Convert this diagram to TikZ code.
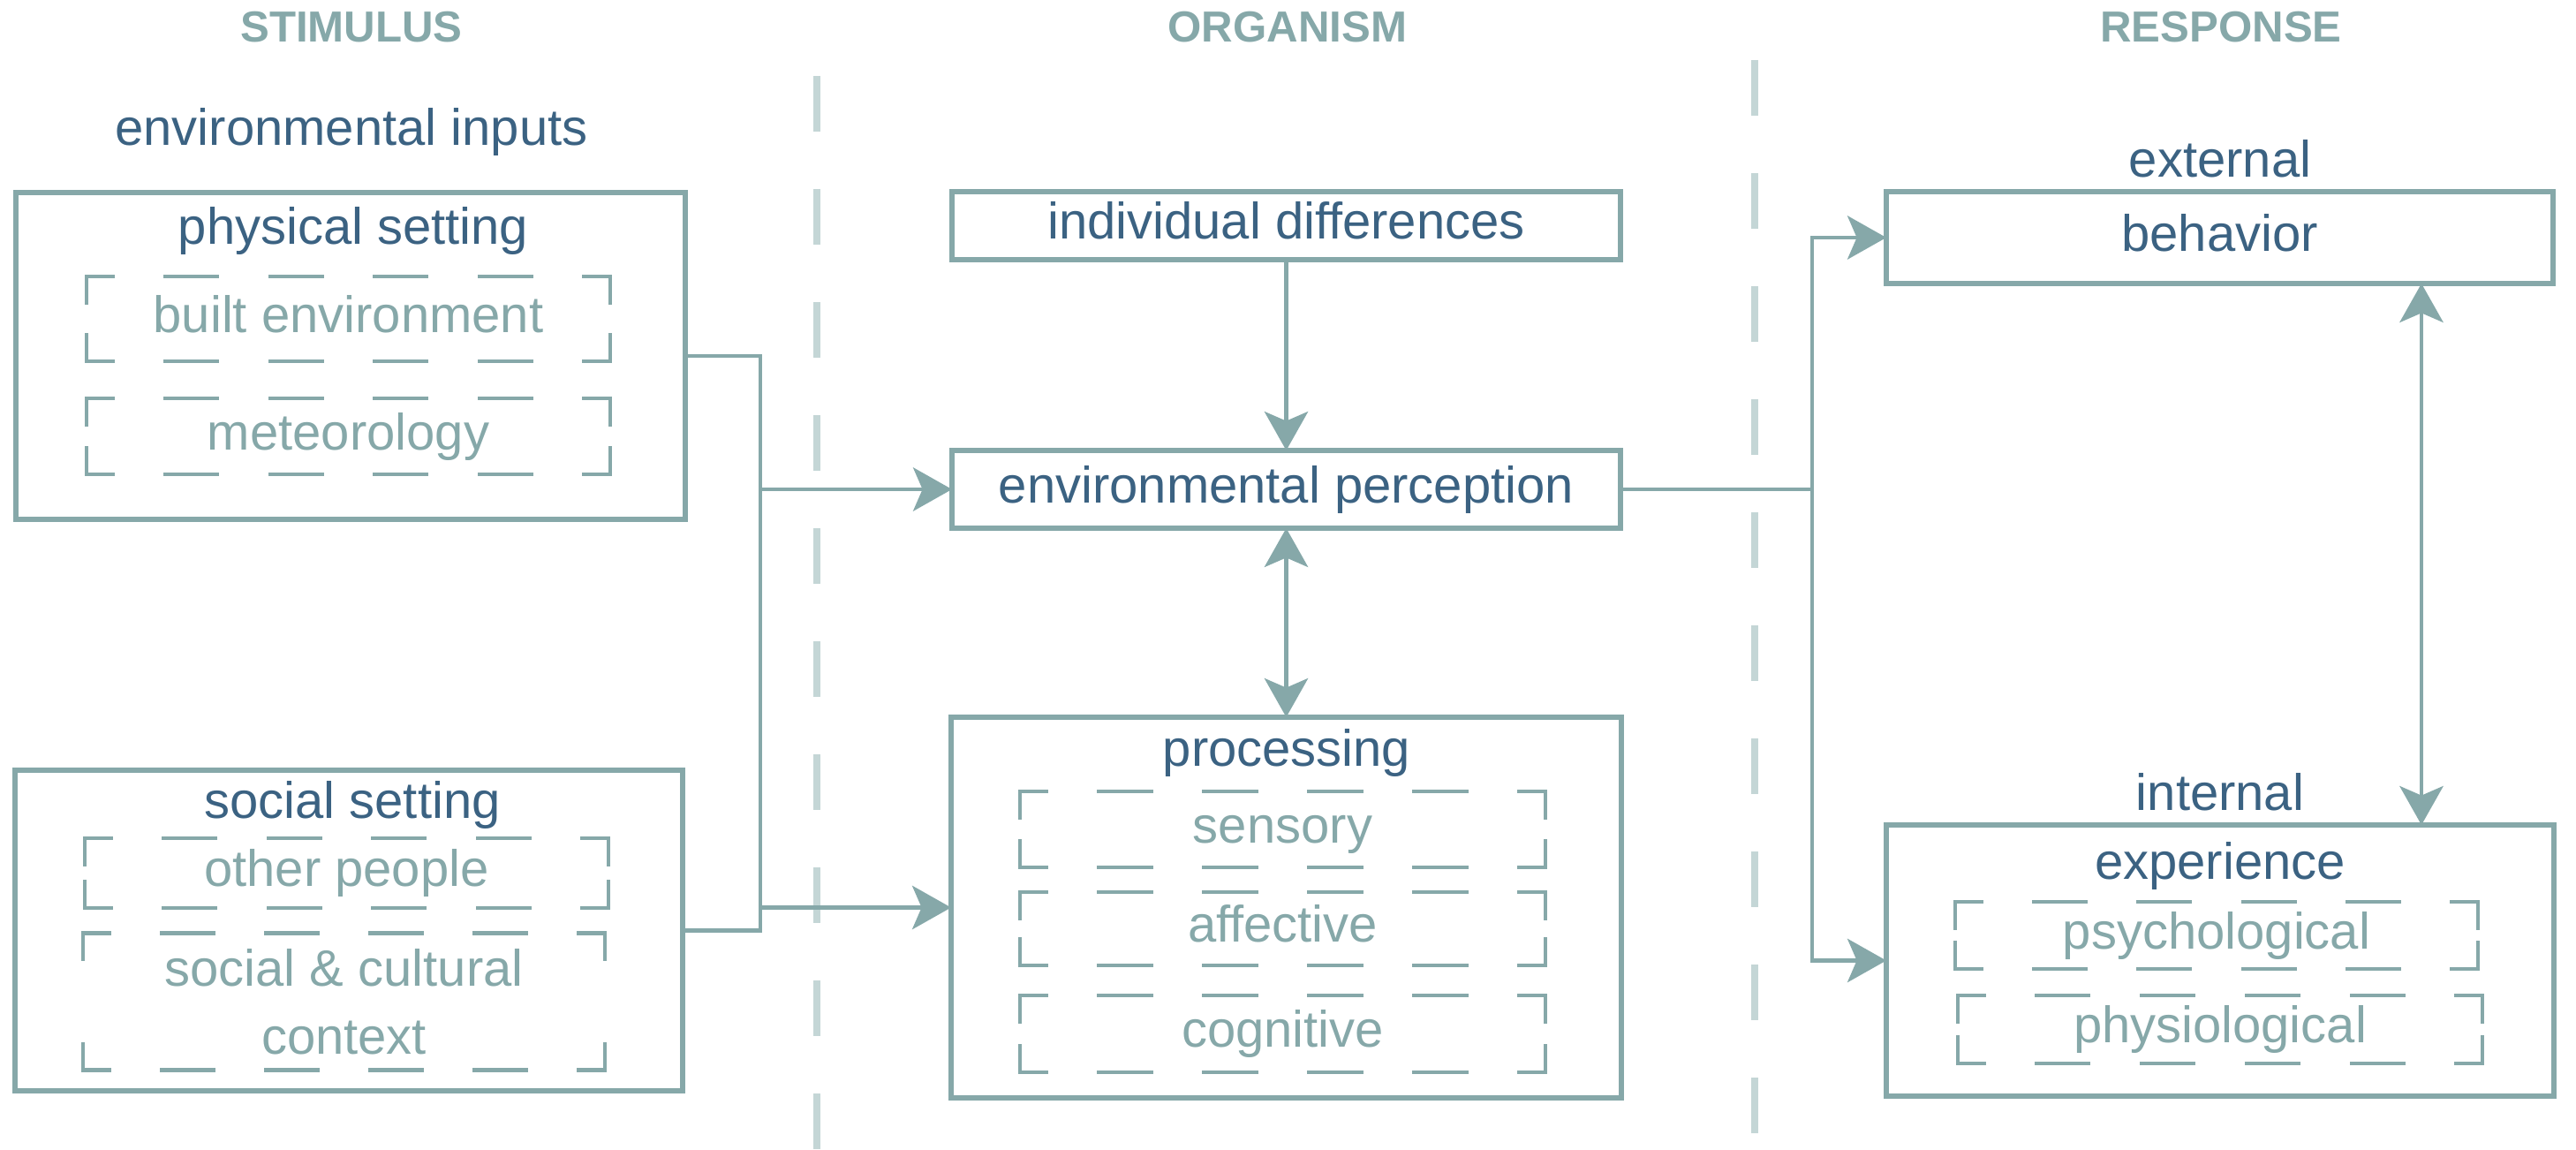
\documentclass[tikz,border=0pt]{standalone}
\usepackage{fontspec}
\setmainfont{Liberation Sans}
\usetikzlibrary{positioning, arrows.meta}
\definecolor{sblue}{RGB}{59,98,130}
\definecolor{steal}{RGB}{134,168,169}
\definecolor{sgrey}{RGB}{196,214,214}

\newcommand{\bodyfont}{\fontsize{16.5}{21.8}\selectfont}
\newcommand{\headfont}{\fontsize{14}{16}\selectfont\bfseries}

% dashed frame: each side gets its own pattern so the dashes sit on the corners
\newcommand{\dashlen}{16.8}
\newcommand{\dashside}[2]{%
    \path (#1); \pgfgetlastxy{\sax}{\say}%
    \path (#2); \pgfgetlastxy{\sbx}{\sby}%
    \pgfmathsetmacro{\slen}{veclen(\sbx-\sax,\sby-\say)}%
    \pgfmathsetmacro{\snum}{max(1,round(\slen/(2*\dashlen)))}%
    \pgfmathsetmacro{\sgap}{\slen/\snum-\dashlen}%
    \pgfmathsetmacro{\sphase}{\dashlen/2}%
    \draw[subline, dash pattern=on \dashlen pt off \sgap pt, dash phase=\sphase pt] (#1) -- (#2);%
}
\newcommand{\dashframe}[1]{%
    \dashside{#1.north west}{#1.north east}%
    \dashside{#1.north east}{#1.south east}%
    \dashside{#1.south east}{#1.south west}%
    \dashside{#1.south west}{#1.north west}%
}

\begin{document}
\begin{tikzpicture}[y=-1cm,
        box/.style={draw=steal, line width=1.5pt, inner sep=0pt, outer sep=0pt, text=sblue, font=\bodyfont, text height=11.9pt, text depth=3.3pt},
        sub/.style={inner sep=0pt, outer sep=0pt, text=steal, font=\bodyfont},
        subone/.style={sub, text height=11.9pt, text depth=3.3pt},
        title/.style={anchor=base, inner sep=0pt, text=sblue, font=\bodyfont},
        head/.style={anchor=base, inner sep=0pt, text=steal, font=\headfont},
        subline/.style={steal, line width=1.2pt, line cap=rect},
        link/.style={steal, line width=1.4pt},
        arr/.style={link, -{Stealth[length=12.5pt, width=14pt, inset=3pt]}},
        arrs/.style={link, {Stealth[length=12.5pt, width=14pt, inset=3pt]}-{Stealth[length=12.5pt, width=14pt, inset=3pt]}}]
        \useasboundingbox (0,0) rectangle (29.17,13.02);

        % column dividers
        \foreach \x/\y in {9.25/0.86, 19.87/0.68}
        {
            \draw[sgrey, line width=2.2pt, dash pattern=on 0.63cm off 0.65cm] (\x,\y) -- (\x,13.02);
        }

        % headers
        \node[head] (stim) at (3.98,0.48) {STIMULUS};
        \node[head] (org) at (14.58,0.48) {ORGANISM};
        \node[head] (resp) at (25.15,0.48) {RESPONSE};

        % stimulus column
        \node[title] (envin) at (3.98,1.65) {environmental inputs};
        \node[box, minimum width=7.58cm, minimum height=3.70cm] (phys) at (3.97,4.03) {};
        \node[title] (phystitle) at (4.0,2.77) {physical setting};
        \node[subone, minimum width=5.93cm, minimum height=0.96cm] (built) at (3.945,3.61) {built environment};
        \node[subone, minimum width=5.93cm, minimum height=0.86cm] (meteo) at (3.945,4.94) {meteorology};

        \node[box, minimum width=7.56cm, minimum height=3.63cm] (soc) at (3.95,10.535) {};
        \node[title] (soctitle) at (3.99,9.26) {social setting};
        \node[subone, minimum width=5.93cm, minimum height=0.79cm] (people) at (3.925,9.885) {other people};
        \node[sub, align=center, minimum width=5.91cm, minimum height=1.55cm] (culture) at (3.895,11.34) {social \& cultural\\context};

        % organism column
        \node[box, minimum width=7.57cm, minimum height=0.77cm] (indiv) at (14.565,2.555) {individual differences};
        \node[box, minimum width=7.57cm, minimum height=0.88cm] (perc) at (14.565,5.54) {environmental perception};
        \node[box, minimum width=7.59cm, minimum height=4.31cm] (proc) at (14.565,10.275) {};
        \node[title] (proctitle) at (14.57,8.67) {processing};
        \node[subone, minimum width=5.95cm, minimum height=0.86cm] (sensory) at (14.525,9.39) {sensory};
        \node[subone, minimum width=5.95cm, minimum height=0.83cm] (affective) at (14.525,10.515) {affective};
        \node[subone, minimum width=5.95cm, minimum height=0.87cm] (cognitive) at (14.525,11.705) {cognitive};

        % response column
        \node[title] (ext) at (25.14,2.01) {external};
        \node[box, minimum width=7.55cm, minimum height=1.04cm] (behav) at (25.135,2.69) {behavior};
        \node[title] (int) at (25.14,9.17) {internal};
        \node[box, minimum width=7.56cm, minimum height=3.07cm] (exper) at (25.14,10.875) {};
        \node[title] (expertitle) at (25.14,9.95) {experience};
        \node[subone, minimum width=5.92cm, minimum height=0.76cm] (psych) at (25.10,10.59) {psychological};
        \node[subone, minimum width=5.94cm, minimum height=0.77cm] (physio) at (25.14,11.655) {physiological};

        % dashed sub boxes
        \foreach \n in {built,meteo,people,culture,sensory,affective,cognitive,psych,physio}
        {
            \dashframe{\n}
        }

        % connectors
        \coordinate (jin) at (8.61,0);
        \coordinate (jout) at (20.52,0);
        \coordinate (jr) at (27.42,0);
        \draw[link] (phys.east) -| (soc.east -| jin) -- (soc.east);
        \draw[arr] (perc.west -| jin) -- (perc.west);
        \draw[arr] (proc.west -| jin) -- (proc.west);
        \draw[arr] (indiv) -- (perc);
        \draw[arrs] (perc) -- (proc);
        \draw[link] (perc.east) -- (perc.east -| jout);
        \draw[arr] (perc.east -| jout) |- (behav.west);
        \draw[arr] (perc.east -| jout) |- (exper.west);
        \draw[arrs] (behav.south -| jr) -- (exper.north -| jr);
\end{tikzpicture}
\end{document}
